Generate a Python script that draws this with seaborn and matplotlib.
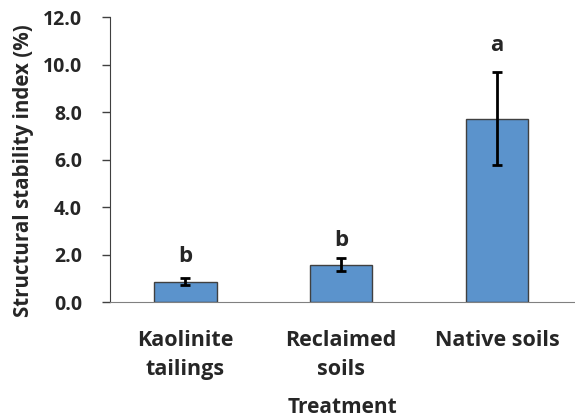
import pandas as pd
import matplotlib.pyplot as plt
import seaborn as sns

# values
treatments = ['Kaolinite\ntailings', 'Reclaimed\nsoils', 'Native soils']
ssi_mean = [0.86, 1.57, 7.73]
ssi_err = [0.14, 0.27, 1.97]
letters = ['b', 'b', 'a']
letter_gap_px = [16, 12, 21]  # gap above error bar, as placed in the original

df = pd.DataFrame({'Treatment': treatments, 'SSI': ssi_mean})

sns.set_style('ticks')
plt.rcParams['font.family'] = ['Open Sans', 'DejaVu Sans']
plt.rcParams['font.weight'] = 'bold'

fig = plt.figure(figsize=(5.75, 4.19), dpi=100)
ax = fig.add_axes([0.191, 0.279, 0.809, 0.68])

sns.barplot(data=df, x='Treatment', y='SSI', color='#5B93CC', saturation=1,
            width=0.4, edgecolor='#404040', linewidth=1.0, ax=ax)
ax.errorbar(range(len(treatments)), ssi_mean, yerr=ssi_err, fmt='none',
            ecolor='black', elinewidth=2, capsize=3.5, capthick=2)

for i, (m, e, l) in enumerate(zip(ssi_mean, ssi_err, letters)):
    ax.annotate(l, (i, m + e), xytext=(0, letter_gap_px[i] * 0.72), textcoords='offset points',
                ha='center', va='baseline', fontsize=16, fontweight='bold')

ax.set_ylim(0, 12)
ax.set_xlim(-0.485, 2.5)
ax.set_yticks([0, 2, 4, 6, 8, 10, 12])
ax.set_yticklabels([f'{v:.1f}' for v in ax.get_yticks()])
ax.set_ylabel('Structural stability index (%)', fontsize=14.8, fontweight='bold')
ax.yaxis.set_label_coords(-0.163, 0.463)
ax.set_xlabel('Treatment', fontsize=15, fontweight='bold', labelpad=12)

ax.tick_params(axis='y', length=6, width=1, color='#404040', labelsize=14, pad=14)
ax.tick_params(axis='x', length=0, labelsize=15.5, pad=20)
for lab in ax.get_xticklabels() + ax.get_yticklabels():
    lab.set_fontweight('bold')
for lab in ax.get_xticklabels():
    lab.set_linespacing(1.5)

sns.despine(ax=ax, top=True, right=True)
ax.spines['left'].set_color('#404040')
ax.spines['bottom'].set_color('#808080')

plt.savefig('out.png', dpi=100)
